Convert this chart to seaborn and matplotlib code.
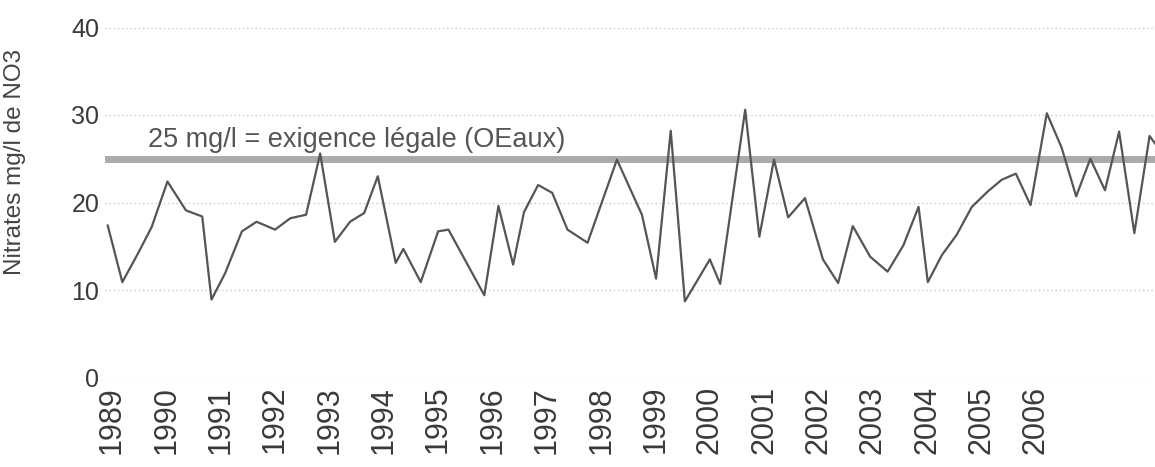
import matplotlib
matplotlib.use("Agg")
import matplotlib.pyplot as plt
import seaborn as sns
import pandas as pd

# sampling dates (decimal years) and nitrate concentrations (mg/l NO3)
dates = [1988.92, 1989.19, 1989.48, 1989.73, 1990.02, 1990.36, 1990.66, 1990.83,
         1991.08, 1991.39, 1991.66, 1992.00, 1992.28, 1992.57, 1992.83, 1993.10,
         1993.38, 1993.64, 1993.89, 1994.22, 1994.36, 1994.68, 1995.00, 1995.19,
         1995.85, 1996.11, 1996.38, 1996.58, 1996.84, 1997.10, 1997.38, 1997.75,
         1998.29, 1998.75, 1999.01, 1999.28, 1999.54, 2000.00, 2000.19, 2000.65,
         2000.91, 2001.18, 2001.44, 2001.75, 2002.08, 2002.36, 2002.63, 2002.95,
         2003.27, 2003.56, 2003.84, 2004.01, 2004.27, 2004.54, 2004.82, 2005.12,
         2005.37, 2005.63, 2005.90, 2006.20, 2006.47, 2006.74, 2007.00, 2007.27,
         2007.53, 2007.81, 2008.09, 2008.28]
nitrates = [17.4, 10.9, 14.2, 17.2, 22.4, 19.1, 18.4, 8.9,
            11.9, 16.7, 17.8, 16.9, 18.2, 18.6, 25.6, 15.5,
            17.8, 18.8, 23.0, 13.1, 14.7, 10.9, 16.7, 16.9,
            9.4, 19.6, 12.9, 18.9, 22.0, 21.1, 16.9, 15.4,
            24.9, 18.6, 11.3, 28.2, 8.7, 13.5, 10.7, 30.6,
            16.1, 24.9, 18.3, 20.5, 13.5, 10.8, 17.3, 13.8,
            12.1, 15.1, 19.5, 10.9, 14.0, 16.3, 19.5, 21.3,
            22.6, 23.3, 19.7, 30.2, 26.3, 20.7, 25.0, 21.4,
            28.1, 16.5, 27.6, 26.0]
year_ticks = list(range(1989, 2007))
y_ticks = [0, 10, 20, 30, 40]
legal_limit = 25
limit_label = "25 mg/l = exigence légale (OEaux)"
y_label = "Nitrates mg/l de NO3"

sns.set_theme(style="white")
plt.rcParams["font.family"] = ["Liberation Sans", "DejaVu Sans"]

df = pd.DataFrame({"date": dates, "nitrate": nitrates})

fig = plt.figure(figsize=(11.55, 4.67), dpi=100)
ax = fig.add_axes([105 / 1155, 1 - 377.5 / 467, 1050 / 1155, 350 / 467])

for v in y_ticks:
    ax.axhline(v, color="#c8c8c8", lw=1.0, ls=(0, (1, 2)), zorder=0)

ax.axhline(legal_limit, color="#ababab", lw=5, zorder=1)
sns.lineplot(data=df, x="date", y="nitrate", ax=ax, color="#555555",
             lw=1.6, zorder=2)

ax.text(1989.66, 27.1, limit_label, fontsize=19.5, color="#555555",
        va="center", ha="left")

ax.set_xlim(1988.871, 2008.19)
ax.set_ylim(0, 40)
ax.set_xticks(year_ticks)
ax.set_xticklabels([str(y) for y in year_ticks], rotation=90, fontsize=22,
                   color="#3a3a3a")
ax.set_yticks(y_ticks)
ax.set_yticklabels([str(v) for v in y_ticks], fontsize=18, color="#3a3a3a")
ax.tick_params(axis="x", length=0, pad=6)
ax.tick_params(axis="y", length=0, pad=4)
ax.set_xlabel("")
ax.set_ylabel("")
fig.text(15 / 1155, 1 - 162 / 467, y_label, rotation=90, fontsize=17.5,
         color="#444444", ha="center", va="center")
for s in ax.spines.values():
    s.set_visible(False)

fig.savefig("out.png", dpi=100)
